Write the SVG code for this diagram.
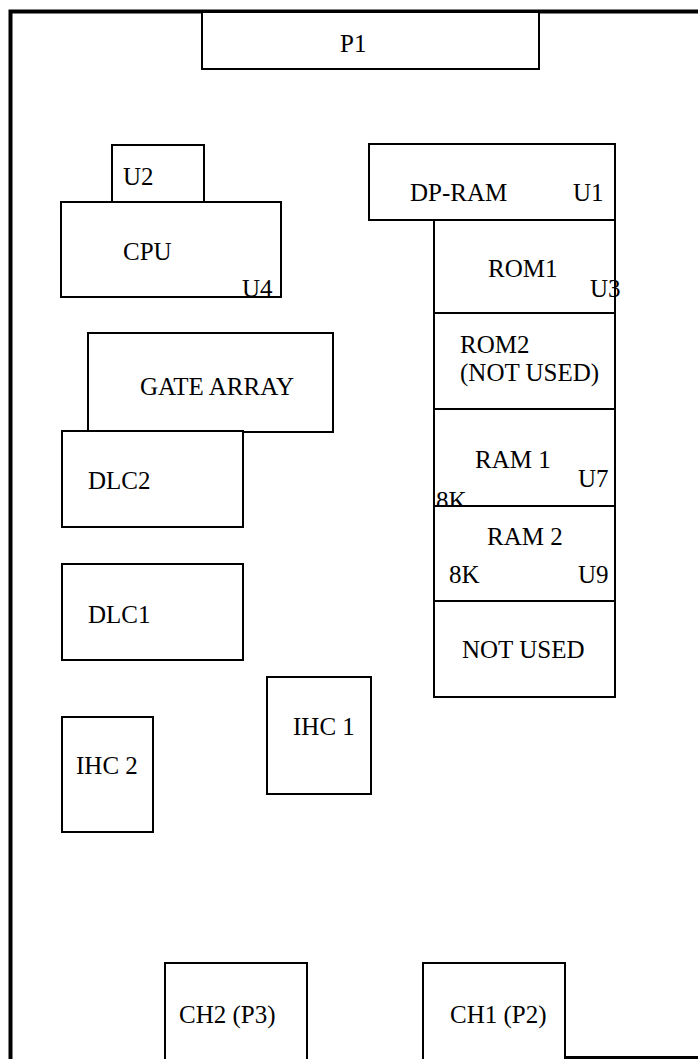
<svg xmlns="http://www.w3.org/2000/svg" width="698" height="1059" viewBox="0 0 698 1059">
<style>
  .box{fill:#fff;stroke:#000;stroke-width:2}
  .t{font-family:"Liberation Serif","Times New Roman",serif;font-size:25px;fill:#000}
  .border{fill:none;stroke:#000;stroke-width:4}
</style>
<rect x="0" y="0" width="698" height="1059" fill="#fff"/>
<g id="board-outline">
  <path class="border" d="M10.5 1062 V11.5 H702"/>
  <path d="M565 1057.5 H702" fill="none" stroke="#000" stroke-width="3"/>
</g>
<g id="P1"><rect class="box" x="202" y="12" width="337" height="57"/><text class="t" x="340" y="52">P1</text></g>
<g id="U2"><rect class="box" x="112" y="145" width="92" height="57"/><text class="t" x="123" y="185">U2</text></g>
<g id="CPU"><rect class="box" x="61" y="202" width="220" height="95"/><text class="t" x="123" y="260">CPU</text><text class="t" x="242" y="297">U4</text></g>
<g id="GATE-ARRAY"><rect class="box" x="88" y="333" width="245" height="99"/><text class="t" x="140" y="395">GATE ARRAY</text></g>
<g id="DLC2"><rect class="box" x="62" y="431" width="181" height="96"/><text class="t" x="88" y="489">DLC2</text></g>
<g id="DLC1"><rect class="box" x="62" y="564" width="181" height="96"/><text class="t" x="88" y="623">DLC1</text></g>
<g id="IHC1"><rect class="box" x="267" y="677" width="104" height="117"/><text class="t" x="293" y="735">IHC 1</text></g>
<g id="IHC2"><rect class="box" x="62" y="717" width="91" height="115"/><text class="t" x="76" y="774">IHC 2</text></g>
<g id="DP-RAM"><rect class="box" x="369" y="144" width="246" height="76"/><text class="t" x="410" y="201">DP-RAM</text><text class="t" x="573" y="201">U1</text></g>
<g id="ROM1"><rect class="box" x="434" y="220" width="181" height="93"/><text class="t" x="488" y="277">ROM1</text><text class="t" x="590" y="297">U3</text></g>
<g id="ROM2"><rect class="box" x="434" y="313" width="181" height="96"/><text class="t" x="460" y="353">ROM2</text><text class="t" x="460" y="381">(NOT USED)</text></g>
<g id="RAM1"><rect class="box" x="434" y="409" width="181" height="97"/><text class="t" x="475" y="468">RAM 1</text><text class="t" x="578" y="487">U7</text><text class="t" x="436" y="509">8K</text></g>
<g id="RAM2"><rect class="box" x="434" y="506" width="181" height="95"/><text class="t" x="487" y="545">RAM 2</text><text class="t" x="449" y="583">8K</text><text class="t" x="578" y="583">U9</text></g>
<g id="NOT-USED"><rect class="box" x="434" y="601" width="181" height="96"/><text class="t" x="462" y="658">NOT USED</text></g>
<g id="CH2"><rect class="box" x="165" y="963" width="142" height="110"/><text class="t" x="179" y="1023">CH2 (P3)</text></g>
<g id="CH1"><rect class="box" x="423" y="963" width="142" height="110"/><text class="t" x="450" y="1023">CH1 (P2)</text></g>
<g id="connectors"/>
</svg>
